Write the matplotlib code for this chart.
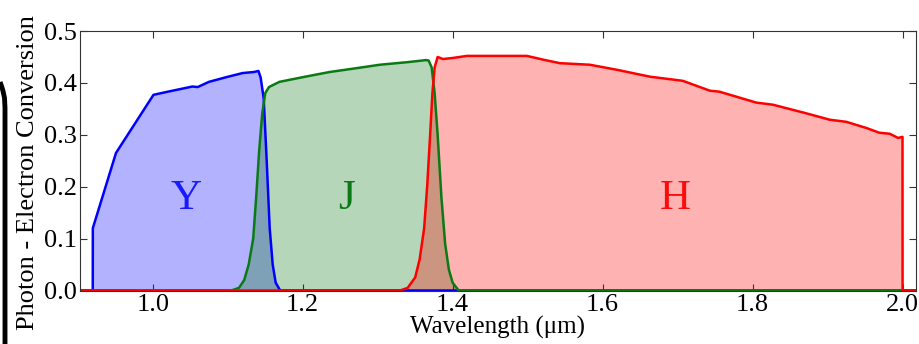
import numpy as np
import matplotlib
matplotlib.use('Agg')
import matplotlib.pyplot as plt
from matplotlib.lines import Line2D

# Y band (blue)
y_wl = [0.903, 0.920, 0.9201, 0.951, 1.001, 1.02, 1.053, 1.06, 1.075, 1.098, 1.12, 1.135, 1.141,
        1.144, 1.148, 1.152, 1.156, 1.160, 1.164, 1.170, 2.02]
y_qe = [0.0, 0.0, 0.12, 0.265, 0.377, 0.383, 0.393, 0.392, 0.402, 0.411, 0.419, 0.421, 0.423,
        0.41, 0.37, 0.25, 0.12, 0.05, 0.015, 0.0, 0.0]

# J band (green)
j_wl = [0.903, 1.105, 1.115, 1.122, 1.128, 1.134, 1.138, 1.142, 1.146, 1.150, 1.155, 1.169,
        1.2, 1.236, 1.27, 1.303, 1.34, 1.365, 1.368, 1.372, 1.376, 1.380, 1.385, 1.390,
        1.395, 1.400, 1.408, 2.02]
j_qe = [0.0, 0.0, 0.005, 0.02, 0.05, 0.10, 0.18, 0.27, 0.34, 0.38, 0.392, 0.402,
        0.411, 0.421, 0.428, 0.435, 0.440, 0.444, 0.443, 0.43, 0.38, 0.30, 0.18, 0.09,
        0.04, 0.015, 0.0, 0.0]

# H band (red)
h_wl = [0.903, 1.330, 1.340, 1.350, 1.356, 1.362, 1.366, 1.370, 1.373, 1.376, 1.380, 1.387,
        1.40, 1.419, 1.46, 1.499, 1.52, 1.543, 1.583, 1.62, 1.663, 1.707, 1.743, 1.756,
        1.805, 1.827, 1.87, 1.903, 1.925, 1.952, 1.969, 1.983, 1.994, 2.0, 2.0001, 2.02]
h_qe = [0.0, 0.0, 0.005, 0.025, 0.06, 0.12, 0.2, 0.3, 0.38, 0.43, 0.45, 0.446,
        0.448, 0.452, 0.452, 0.452, 0.445, 0.438, 0.435, 0.425, 0.412, 0.404, 0.385, 0.383,
        0.362, 0.358, 0.342, 0.329, 0.325, 0.313, 0.304, 0.302, 0.294, 0.296, 0.0, 0.0]

bands = [
    (y_wl, y_qe, 'blue', 'Y', 1.045, '#1a1aff'),
    (j_wl, j_qe, '#0a7a14', 'J', 1.259, '#0a7a14'),
    (h_wl, h_qe, 'red', 'H', 1.697, '#ff0a0a'),
]

plt.rcParams['font.family'] = ['Liberation Serif', 'DejaVu Serif']

fig = plt.figure(figsize=(9.2, 3.44), dpi=100)
ax = fig.add_axes([80 / 920, 53 / 344, 836 / 920, 260 / 344])

for wl, qe, col, name, xlab, tcol in bands:
    ax.fill_between(wl, 0, qe, color=col, alpha=0.3, lw=0)
for wl, qe, col, name, xlab, tcol in bands:
    ax.plot(wl, qe, color=col, lw=1.8)
    ax.text(xlab, 0.177, name, color=tcol, fontsize=31, ha='center', va='center')

ax.set_xlim(0.903, 2.018)
ax.set_ylim(-0.001, 0.5)
ax.set_xticks([1.0, 1.2, 1.4, 1.6, 1.8, 2.0])
ax.set_yticks([0.0, 0.1, 0.2, 0.3, 0.4, 0.5])
ax.tick_params(direction='in', top=True, right=True, labelsize=19, length=5,
               color='#333333', pad=2)
for s in ax.spines.values():
    s.set_color('#333333')
ax.set_xlabel(u'Wavelength (\u03bcm)', fontsize=18, labelpad=0)
ax.set_ylabel('Photon - Electron Conversion', fontsize=19)
ax.yaxis.set_label_coords(-0.049, 0.455)

# black frame edge on the left
fig.add_artist(Line2D(np.array([0, 1.5, 3, 4.5, 5, 5]) / 920,
                      1 - np.array([82, 86, 91, 98, 108, 344]) / 344,
                      color='black', lw=3.5, solid_capstyle='butt'))

fig.savefig('out.png', dpi=100)
